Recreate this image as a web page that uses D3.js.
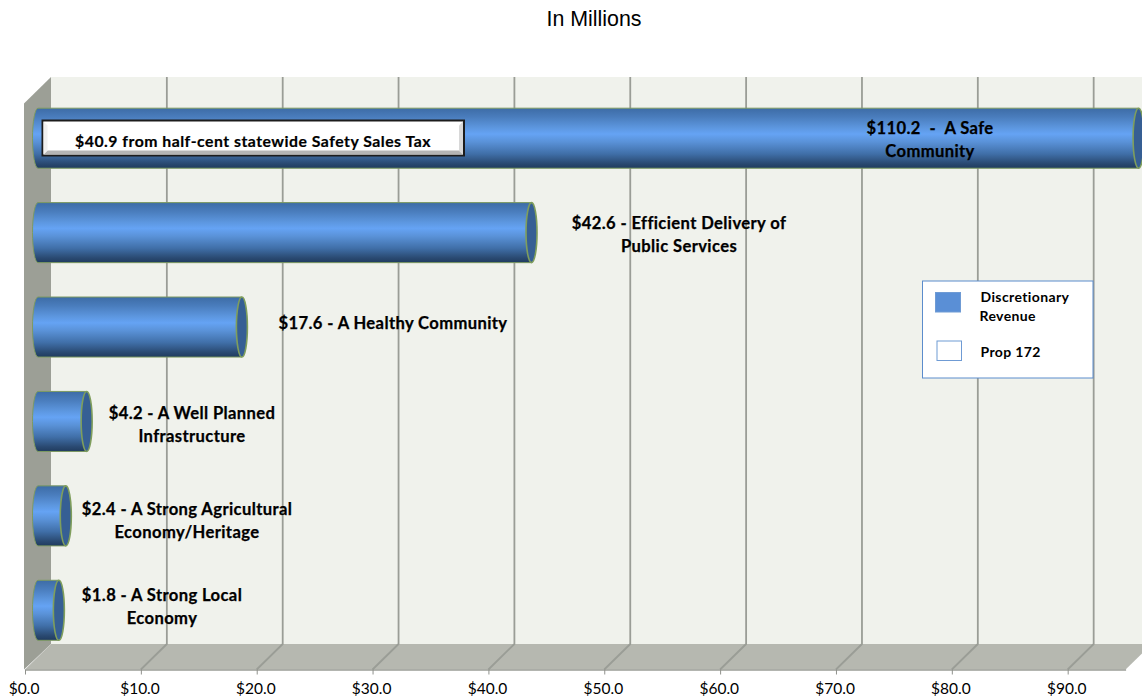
<!DOCTYPE html>
<html>
<head>
<meta charset="utf-8">
<script src="https://cdn.jsdelivr.net/npm/d3@7"></script>
<style>
  html, body { margin: 0; padding: 0; background: #fff; overflow: hidden; }
  svg { display: block; }
  text { font-family: Lato, "Noto Sans", sans-serif; fill: #000; }
</style>
</head>
<body>
<script>
// values
const categories = ["A Safe Community", "Efficient Delivery of Public Services", "A Healthy Community",
    "A Well Planned Infrastructure", "A Strong Agricultural Economy/Heritage", "A Strong Local Economy"];
const values = [110.2, 42.6, 17.6, 4.2, 2.4, 1.8];
const barLabels = [
    ["$110.2  -  A Safe", "Community"],
    ["$42.6 - Efficient Delivery of", "Public Services"],
    ["$17.6 - A Healthy Community"],
    ["$4.2 - A Well Planned", "Infrastructure"],
    ["$2.4 - A Strong Agricultural", "Economy/Heritage"],
    ["$1.8 - A Strong Local", "Economy"]
];
const tickValues = [0, 10, 20, 30, 40, 50, 60, 70, 80, 90];
const axisMax = 95;
const title = "In Millions";
const calloutText = "$40.9 from half-cent statewide Safety Sales Tax";

const width = 1142, height = 698;
const depthX = 26, depthY = 25.5;
const floorY = 669.5, topY = 77;
const capOffset = 13, capRx = 5.5;

const svg = d3.select("body").append("svg")
    .attr("width", width)
    .attr("height", height);

// the chart's axis stops at 95, so the long bar runs off it
const x = d3.scaleLinear().domain([0, axisMax]).range([25, 1125.6]).clamp(true);
const y = d3.scaleBand().domain(categories).range([91, 657.5]).paddingInner(0.364).paddingOuter(0.182);

const defs = svg.append("defs");
const barGradient = defs.append("linearGradient")
    .attr("id", "barGradient")
    .attr("x1", "0%").attr("y1", "0%")
    .attr("x2", "0%").attr("y2", "100%");
[[0, "#3d6ca6"], [0.15, "#4a7dbd"], [0.32, "#5c96de"], [0.43, "#65a3f4"], [0.56, "#5a92d8"],
 [0.76, "#406fa8"], [0.92, "#2a4a72"], [1, "#203b5e"]].forEach(s => {
    barGradient.append("stop").attr("offset", s[0]).attr("stop-color", s[1]);
});

// back wall, side wall, floor
svg.append("rect")
    .attr("x", x(0) + depthX)
    .attr("y", topY)
    .attr("width", width - x(0) - depthX)
    .attr("height", floorY - depthY - topY)
    .attr("fill", "#f0f2ec");

svg.append("path")
    .attr("d", `M${x(0) - 1},${floorY}V${topY + depthY + 1}L${x(0) + depthX},${topY}V${floorY - depthY}Z`)
    .attr("fill", "#9c9f96");

svg.append("path")
    .attr("d", `M${x(0)},${floorY}L${x(0) + depthX},${floorY - depthY}H${x(axisMax) + depthX}L${x(axisMax)},${floorY}Z`)
    .attr("fill", "#b6b8b0");

// gridlines on the back wall and across the floor
svg.append("g").selectAll("path")
    .data(tickValues)
    .enter().append("path")
    .attr("d", d => `M${x(d) + depthX},${topY}V${floorY - depthY}L${x(d)},${floorY}`)
    .attr("fill", "none")
    .attr("stroke", d => d === 0 ? "none" : "#9a9d96")
    .attr("stroke-width", 1.8);

// axis
const axis = d3.axisBottom(x)
    .tickValues(tickValues)
    .tickSize(5)
    .tickSizeOuter(0)
    .tickPadding(8)
    .tickFormat(d3.format("$.1f"));

const axisG = svg.append("g")
    .attr("transform", `translate(0,${floorY})`)
    .call(axis);
axisG.select(".domain").attr("stroke", "#9a9c96").attr("stroke-width", 1.5);
axisG.selectAll(".tick line").attr("stroke", "#8f918c");
axisG.selectAll(".tick text")
    .style("font-family", "Lato, sans-serif")
    .style("font-size", "15.5px")
    .attr("dx", -1.4)
    .attr("fill", "#111");

// cylinders
const bars = svg.append("g").selectAll("g")
    .data(categories)
    .enter().append("g");

bars.append("path")
    .attr("d", (d, i) => {
        const left = x(0) + capOffset, right = x(values[i]) + capOffset;
        const t = y(d), h = y.bandwidth();
        return `M${right},${t}H${left}A${capRx},${h / 2} 0 0 0 ${left},${t + h}H${right}Z`;
    })
    .attr("fill", "url(#barGradient)")
    .attr("stroke", "#7d9a62")
    .attr("stroke-width", 1);

bars.append("ellipse")
    .attr("cx", (d, i) => x(values[i]) + capOffset)
    .attr("cy", d => y(d) + y.bandwidth() / 2)
    .attr("rx", capRx)
    .attr("ry", y.bandwidth() / 2)
    .attr("fill", "#365f94")
    .attr("stroke", "#7f9e5c")
    .attr("stroke-width", 1.6);

// bar labels, centred by hand like the text boxes in the original
const labelCentreX = [930, 679, 393, 192, 187, 162];
const labelCentreY = [139.5, 234.5, 323, 424.5, 520.5, 606.5];
const labels = svg.append("g")
    .attr("font-size", "16.6px")
    .attr("font-weight", 700)
    .attr("letter-spacing", "0.38px")
    .attr("stroke", "#000")
    .attr("stroke-width", 0.25)
    .attr("text-anchor", "middle");

barLabels.forEach((lines, i) => {
    const t = labels.append("text")
        .attr("x", labelCentreX[i])
        .attr("y", labelCentreY[i] - (lines.length - 1) * 11.5)
        .attr("dy", "0.35em")
        .style("white-space", "pre");
    lines.forEach((line, j) => {
        t.append("tspan")
            .attr("x", labelCentreX[i])
            .attr("dy", j === 0 ? "0.35em" : 23)
            .text(line);
    });
});

// callout on the first bar: black box, grey bevel along the bottom and sides
svg.append("rect")
    .attr("x", 42.5)
    .attr("y", 120.5)
    .attr("width", 421.5)
    .attr("height", 35)
    .attr("fill", "#fff")
    .attr("stroke", "#1c1c1c")
    .attr("stroke-width", 2);
svg.append("path")
    .attr("d", "M43.5,154.5L47.5,150.5H459L463,154.5Z")
    .attr("fill", "#b4b4b4");
svg.append("path")
    .attr("d", "M463,121.5L459,125.5V150.5L463,154.5Z")
    .attr("fill", "#d8d8d8");
svg.append("path")
    .attr("d", "M43.5,121.5L47.5,125.5V150.5L43.5,154.5Z")
    .attr("fill", "#f0f0f0");

svg.append("text")
    .attr("x", 253)
    .attr("y", 141)
    .attr("dy", "0.35em")
    .attr("text-anchor", "middle")
    .attr("font-size", "15.8px")
    .attr("font-weight", 700)
    .attr("letter-spacing", "0.5px")
    .attr("stroke", "#000")
    .attr("stroke-width", 0.2)
    .text(calloutText);

// legend
const legend = svg.append("g");
legend.append("rect")
    .attr("x", 922.5).attr("y", 281)
    .attr("width", 170.5).attr("height", 97)
    .attr("fill", "#fff")
    .attr("stroke", "#5b8ccc")
    .attr("stroke-width", 1);
legend.append("rect")
    .attr("x", 935.5).attr("y", 292.5)
    .attr("width", 25).attr("height", 19.5)
    .attr("fill", "#5a8fd6")
    .attr("stroke", "#6f9bd4");
legend.append("rect")
    .attr("x", 937).attr("y", 341)
    .attr("width", 24.5).attr("height", 19.5)
    .attr("fill", "#fff")
    .attr("stroke", "#6f9bd4");

const legendText = legend.append("g")
    .attr("font-size", "14px")
    .attr("letter-spacing", "0.38px")
    .attr("font-weight", 700);
legendText.append("text").attr("x", 980.5).attr("y", 297).attr("dy", "0.35em").text("Discretionary");
legendText.append("text").attr("x", 979.5).attr("y", 316).attr("dy", "0.35em").text("Revenue");
legendText.append("text").attr("x", 980.5).attr("y", 352).attr("dy", "0.35em").text("Prop 172");

// title
svg.append("text")
    .attr("x", 594)
    .attr("y", 19)
    .attr("dy", "0.35em")
    .attr("text-anchor", "middle")
    .style("font-family", "'Liberation Sans', Arial, sans-serif")
    .attr("font-size", "21.4px")
    .text(title);
</script>
</body>
</html>
